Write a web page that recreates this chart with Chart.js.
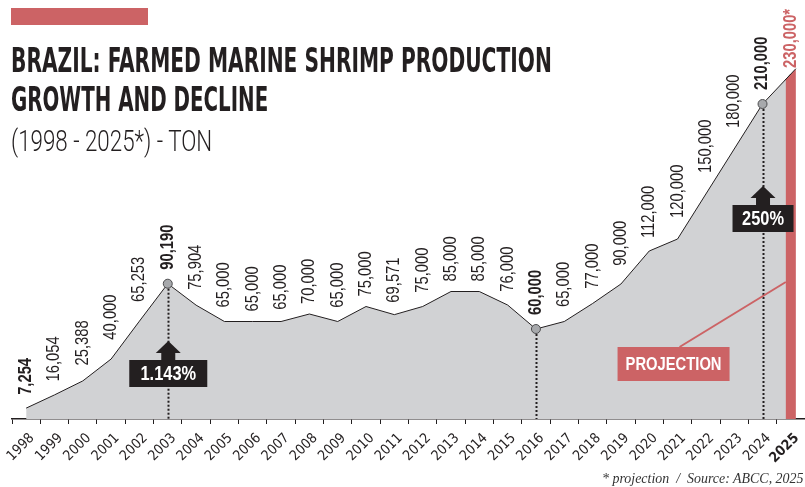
<!DOCTYPE html>
<html>
<head>
<meta charset="utf-8">
<script src="https://cdn.jsdelivr.net/npm/chart.js@4.4.1/dist/chart.umd.min.js"></script>
<style>
    body { margin: 0; background: #fff; }
    #wrap { position: relative; width: 805px; height: 487px; overflow: hidden; }
    #chart { position: absolute; left: 0; top: 0; }
    .fit { position: absolute; white-space: nowrap; color: #231f20; transform-origin: left top; }
    .title { font-family: "DejaVu Sans Condensed", "DejaVu Sans", sans-serif; font-weight: bold; font-size: 33px; line-height: 33px; left: 11px; }
    .sub { font-family: Roboto, "DejaVu Sans", sans-serif; font-weight: 300; font-size: 29px; line-height: 29px; left: 11px; top: 127px; }
    .src { font-family: "Liberation Serif", serif; font-style: italic; font-size: 14px; line-height: 14px; right: 2px; top: 472px; transform-origin: right top; color: #333; }
    #topbar { position: absolute; left: 11px; top: 8px; width: 137px; height: 17px; background: #cc6365; }
</style>
</head>
<body>
<div id="wrap">
    <canvas id="chart" width="805" height="487"></canvas>
    <div id="topbar"></div>
    <div class="fit title" style="top:44px" data-w="541">BRAZIL: FARMED MARINE SHRIMP PRODUCTION</div>
    <div class="fit title" style="top:83px" data-w="257">GROWTH AND DECLINE</div>
    <div class="fit sub" data-w="201">(1998 - 2025*) - TON</div>
    <div class="fit src" data-w="201">* projection&nbsp; /&nbsp; Source: ABCC, 2025</div>
</div>
<script>
// Data (tons)
const years = ['1998', '1999', '2000', '2001', '2002', '2003', '2004', '2005', '2006', '2007',
    '2008', '2009', '2010', '2011', '2012', '2013', '2014', '2015', '2016', '2017',
    '2018', '2019', '2020', '2021', '2022', '2023', '2024', '2025'];
const production = [7254, 16054, 25388, 40000, 65253, 90190, 75904, 65000, 65000, 65000,
    70000, 65000, 75000, 69571, 75000, 85000, 85000, 76000, 60000, 65000,
    77000, 90000, 112000, 120000, 150000, 180000, 210000, 230000];
const projectionYear = '2025';
const highlightYears = ['2003', '2016', '2024'];
const boldLabelYears = ['1998', '2003', '2016', '2024'];
const growthNotes = [
    { year: '2003', text: '1.143%' },
    { year: '2024', text: '250%' }
];

const colors = {
    ink: '#231f20',
    fill: '#d1d2d4',
    red: '#cc6365',
    marker: '#a7a9ac'
};

// Fit the html text blocks to their widths
document.querySelectorAll('.fit').forEach(el => {
    const w = parseFloat(el.dataset.w);
    el.style.transform = 'scaleX(' + (w / el.scrollWidth) + ')';
});

// Narrow font check
const probe = document.createElement('canvas').getContext('2d');
probe.font = '18px "Liberation Sans Narrow", monospace';
const wNarrow = probe.measureText('65,000 abc').width;
probe.font = '18px monospace';
const hasNarrow = Math.abs(wNarrow - probe.measureText('65,000 abc').width) > 0.5;
const labelFamily = hasNarrow ? '"Liberation Sans Narrow"' : '"Liberation Sans", Arial';
const squash = hasNarrow ? 1 : 0.82;
const tickFamily = hasNarrow ? '"Liberation Sans Narrow"' : '"DejaVu Sans Condensed", sans-serif';

function formatTon(v, yr) {
    return v.toLocaleString('en-US') + (yr === projectionYear ? '*' : '');
}

function drawUp(ctx, text, x, y, font, color) {
    ctx.save();
    ctx.translate(x, y);
    ctx.rotate(-Math.PI / 2);
    ctx.scale(squash, 1);
    ctx.font = font;
    ctx.fillStyle = color;
    ctx.textAlign = 'left';
    ctx.textBaseline = 'middle';
    ctx.fillText(text, 0, 0);
    ctx.restore();
}

function drawBox(ctx, text, cx, top, w, h, bg, font) {
    ctx.fillStyle = bg;
    ctx.fillRect(cx - w / 2, top, w, h);
    ctx.save();
    ctx.translate(cx, top + h / 2 + 1);
    ctx.scale(squash, 1);
    ctx.font = font;
    ctx.fillStyle = '#fff';
    ctx.textAlign = 'center';
    ctx.textBaseline = 'middle';
    ctx.fillText(text, 0, 0);
    ctx.restore();
}

function drawArrow(ctx, cx, bottom) {
    ctx.fillStyle = colors.ink;
    ctx.fillRect(cx - 7, bottom - 8, 14, 8);
    ctx.beginPath();
    ctx.moveTo(cx - 12.5, bottom - 7);
    ctx.lineTo(cx + 12.5, bottom - 7);
    ctx.lineTo(cx, bottom - 19);
    ctx.closePath();
    ctx.fill();
}

const annotations = {
    id: 'annotations',
    afterDatasetsDraw(chart) {
        const { ctx, chartArea, scales: { x, y } } = chart;
        const px = i => x.getPixelForValue(i);
        const py = v => y.getPixelForValue(v);
        const base = chartArea.bottom;

        // projection bar at the last year
        const pi = years.indexOf(projectionYear);
        const slope = (py(production[pi]) - py(production[pi - 1])) / (px(pi) - px(pi - 1));
        const lineY = xx => py(production[pi]) + slope * (xx - px(pi));
        const bx0 = px(pi) - 5, bx1 = px(pi) + 5;
        ctx.save();
        ctx.fillStyle = colors.red;
        ctx.beginPath();
        ctx.moveTo(bx0, lineY(bx0));
        ctx.lineTo(bx1, lineY(bx1));
        ctx.lineTo(bx1, base);
        ctx.lineTo(bx0, base);
        ctx.closePath();
        ctx.fill();
        ctx.strokeStyle = colors.ink;
        ctx.lineWidth = 1;
        ctx.beginPath();
        ctx.moveTo(bx0 - 1, lineY(bx0 - 1));
        ctx.lineTo(bx1, lineY(bx1));
        ctx.stroke();

        // dotted drop lines
        ctx.setLineDash([2, 2]);
        ctx.lineWidth = 2;
        highlightYears.forEach(yr => {
            const i = years.indexOf(yr);
            const xx = Math.round(px(i)) + 0.5;
            ctx.beginPath();
            ctx.moveTo(xx, py(production[i]) + 5);
            ctx.lineTo(xx, base);
            ctx.stroke();
        });
        ctx.setLineDash([]);

        // projection pointer + box
        const pcx = px(years.indexOf('2021')) - 4;
        const ptop = base - 72;
        ctx.strokeStyle = colors.red;
        ctx.lineWidth = 2;
        ctx.beginPath();
        ctx.moveTo(pcx + 6, ptop);
        ctx.lineTo(bx0, base - 137);
        ctx.stroke();
        drawBox(ctx, 'PROJECTION', pcx, ptop, 112, 34, colors.red, 'bold 18px ' + labelFamily);

        // growth boxes
        growthNotes.forEach(note => {
            const i = years.indexOf(note.year);
            const cx = px(i) + 0.5;
            const top = note.year === '2003' ? base - 59 : base - 214;
            const w = note.text.length > 4 ? 78 : 61;
            drawArrow(ctx, cx, top);
            drawBox(ctx, note.text, cx, top, w, 27, colors.ink, 'bold 20px ' + labelFamily);
        });

        // value labels
        production.forEach((v, i) => {
            const yr = years[i];
            const xx = px(i);
            const yy = py(v);
            let start;
            if (yr === projectionYear) {
                drawUp(ctx, formatTon(v, yr), xx, yy - 6, 'bold 18px ' + labelFamily, colors.red);
                return;
            }
            if (highlightYears.includes(yr)) {
                start = yy - 14;
            } else {
                let top = yy;
                const half = 7;
                if (i > 0) top = Math.min(top, yy + (py(production[i - 1]) - yy) * half / (xx - px(i - 1)));
                if (i < production.length - 1) top = Math.min(top, yy + (py(production[i + 1]) - yy) * half / (px(i + 1) - xx));
                start = top - 10;
            }
            const bold = boldLabelYears.includes(yr) ? 'bold ' : '';
            drawUp(ctx, formatTon(v, yr), xx, start, bold + '18px ' + labelFamily, colors.ink);
        });
        ctx.restore();
    }
};

new Chart(document.getElementById('chart'), {
    type: 'line',
    data: {
        labels: years,
        datasets: [{
            data: production,
            fill: 'origin',
            backgroundColor: colors.fill,
            borderColor: colors.ink,
            borderWidth: 1,
            tension: 0,
            pointRadius: years.map(yr => highlightYears.includes(yr) ? 4.5 : 0),
            pointBackgroundColor: colors.marker,
            pointBorderColor: '#4d4d4f',
            pointBorderWidth: 1
        }]
    },
    options: {
        responsive: false,
        devicePixelRatio: 1,
        animation: false,
        layout: { padding: { top: 44, left: 12, right: 0, bottom: 0 } },
        plugins: {
            legend: { display: false },
            tooltip: { enabled: false }
        },
        scales: {
            x: {
                offset: true,
                grid: {
                    offset: true,
                    drawOnChartArea: false,
                    drawTicks: true,
                    tickLength: 5,
                    color: colors.ink
                },
                border: { color: colors.ink, width: 1.5 },
                ticks: {
                    autoSkip: false,
                    minRotation: 45,
                    maxRotation: 45,
                    padding: 6,
                    labelOffset: 6,
                    color: colors.ink,
                    font: ctx => ({
                        family: tickFamily,
                        size: 14,
                        weight: years[ctx.index] === projectionYear ? 'bold' : 'normal'
                    })
                },
                afterFit(scale) {
                    scale.height = 68;
                    scale.paddingLeft = 0;
                    scale.paddingRight = 0;
                }
            },
            y: {
                display: false,
                min: 0,
                max: 250000
            }
        }
    },
    plugins: [annotations]
});
</script>
</body>
</html>
